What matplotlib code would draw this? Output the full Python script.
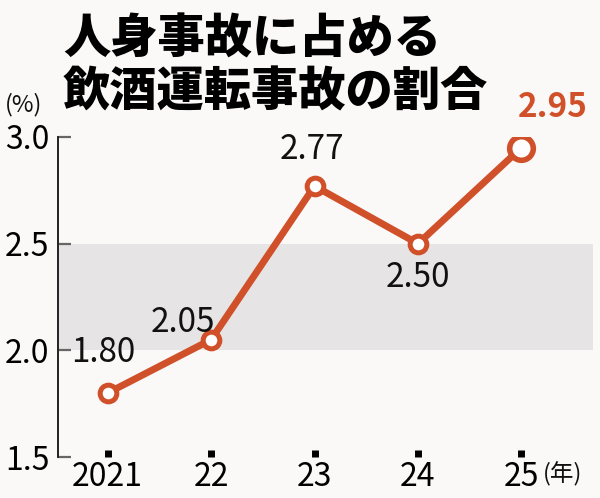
import matplotlib
matplotlib.use("Agg")
import matplotlib.pyplot as plt

plt.rcParams['font.family'] = ['Noto Sans CJK JP', 'DejaVu Sans']

years = ["2021", "22", "23", "24", "25"]
rates = [1.80, 2.05, 2.77, 2.50, 2.95]
labels = ["1.80", "2.05", "2.77", "2.50", "2.95"]
yticks = [1.5, 2.0, 2.5, 3.0]

bg = '#fbf8f8'
orange = '#d0502a'

fig = plt.figure(figsize=(6, 4.98), dpi=100, facecolor=bg)
ax = fig.add_axes([0.0967, 0.0823, 0.8913, 0.6426])
ax.set_facecolor(bg)

x = list(range(len(years)))
ax.axhspan(2.0, 2.5, color='#e6e4e4', zorder=0, lw=0)
ax.plot(x, rates, color=orange, lw=5, zorder=2)
ax.plot(x[:-1], rates[:-1], 'o', ms=12, mfc='white', mec=orange, mew=3.6, zorder=3)
ax.plot(x[-1], rates[-1], 'o', ms=17, mfc='white', mec=orange, mew=4, zorder=3)

ax.set_xlim(-0.48, 4.69)
ax.set_ylim(1.5, 3.0)
for s in ['top', 'right', 'bottom']:
    ax.spines[s].set_visible(False)
ax.spines['left'].set_linewidth(1.4)
ax.spines['left'].set_color('#222222')

ax.set_yticks(yticks)
ax.set_yticklabels([f"{v:.1f}" for v in yticks], fontsize=23)
ax.tick_params(axis='y', direction='in', length=9, width=1.6, color='#666666', pad=6)
ax.set_xticks(x)
ax.set_xticklabels(years, fontsize=23)
ax.tick_params(axis='x', direction='in', length=5, width=5, color='black', pad=3)

offsets = [(-0.04, 0.19), (-0.27, 0.08), (-0.03, 0.17), (0.0, -0.16), (0.3, 0.19)]
for i, (v, t) in enumerate(zip(rates, labels)):
    dx, dy = offsets[i]
    last = i == len(rates) - 1
    ax.text(i + dx, v + dy, t, ha='center', va='center', fontsize=24,
            color=orange if last else '#111111',
            weight='bold' if last else 'normal')

ax.text(4.21, 1.475, "(年)", fontsize=17, ha='left', va='top', color='#111111')
fig.text(0.008, 0.79, "(%)", fontsize=17, ha='left', va='center', color='#111111')

fig.text(0.105, 0.922, "人身事故に占める", fontsize=34, weight='heavy', ha='left', va='center')
fig.text(0.105, 0.814, "飲酒運転事故の割合", fontsize=34, weight='heavy', ha='left', va='center')

fig.savefig("out.png", dpi=100, facecolor=bg)
